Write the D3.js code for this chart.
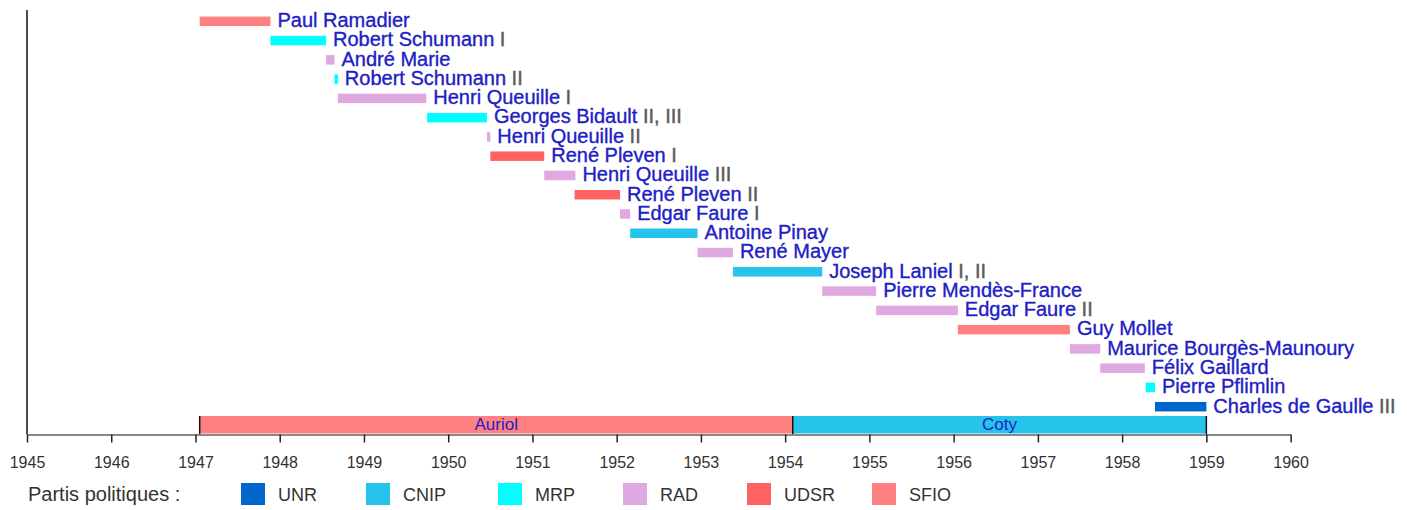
<!DOCTYPE html>
<html>
<head>
<meta charset="utf-8">
<script src="https://cdn.jsdelivr.net/npm/d3@7"></script>
<style>
  html, body { margin: 0; padding: 0; background: #fff; }
  svg { display: block; font-family: "Liberation Sans", Arial, sans-serif; }
</style>
</head>
<body>
<svg id="chart" width="1407" height="510"></svg>
<script>
// ---- data ----
const names = ["Paul Ramadier","Robert Schumann","André Marie","Robert Schumann","Henri Queuille",
  "Georges Bidault","Henri Queuille","René Pleven","Henri Queuille","René Pleven","Edgar Faure",
  "Antoine Pinay","René Mayer","Joseph Laniel","Pierre Mendès-France","Edgar Faure","Guy Mollet",
  "Maurice Bourgès-Maunoury","Félix Gaillard","Pierre Pflimlin","Charles de Gaulle"];
const numerals = ["","I","","II","I","II, III","II","I","III","II","I","","","I, II","","II","","","","","III"];
const starts = [1947.05,1947.89,1948.55,1948.65,1948.69,1949.75,1950.46,1950.50,1951.14,1951.50,1952.04,
  1952.16,1952.96,1953.38,1954.44,1955.08,1956.05,1957.38,1957.74,1958.28,1958.39];
const ends = [1947.89,1948.55,1948.65,1948.69,1949.74,1950.46,1950.50,1951.14,1951.51,1952.04,1952.16,
  1952.96,1953.38,1954.44,1955.08,1956.05,1957.38,1957.74,1958.27,1958.39,1959.00];
const parties = ["SFIO","MRP","RAD","MRP","RAD","MRP","RAD","UDSR","RAD","UDSR","RAD",
  "CNIP","RAD","CNIP","RAD","RAD","SFIO","RAD","RAD","MRP","UNR"];

const presidents = ["Auriol","Coty"];
const presStarts = [1947.05, 1954.09];
const presEnds = [1954.09, 1959.00];
const presParties = ["SFIO","CNIP"];

const years = d3.range(1945, 1961);
const legendParties = ["UNR","CNIP","MRP","RAD","UDSR","SFIO"];
const legendColors = ["#0066cc","#26c4ea","#00ffff","#e0a8e0","#ff6262","#ff8080"];
const legendTitle = "Partis politiques :";

// ---- scales ----
const svg = d3.select("#chart");
const x = d3.scaleLinear().domain([1945, 1960]).range([27, 1290.6]);
const rowIdx = d3.range(names.length);
const y = d3.scalePoint().domain(rowIdx).range([21.3, 406.7]);
const color = d3.scaleOrdinal().domain(legendParties).range(legendColors);
const barH = 9.5;
const axisY = 434.5;

// ---- cabinet bars ----
svg.append("g").selectAll("rect").data(rowIdx).join("rect")
  .attr("x", i => x(starts[i]))
  .attr("y", i => y(i) - barH / 2)
  .attr("width", i => Math.max(2, x(ends[i]) - x(starts[i])))
  .attr("height", barH)
  .attr("fill", i => color(parties[i]));

const lbl = svg.append("g").selectAll("text").data(rowIdx).join("text")
  .attr("x", i => x(ends[i]) + 7)
  .attr("y", i => y(i) + 5.8)
  .attr("font-size", 20);
lbl.append("tspan").attr("fill", "#2020c4").attr("stroke", "#2020c4").attr("stroke-width", 0.35)
  .text(i => names[i]);
lbl.append("tspan").attr("fill", "#5a5a5a").attr("stroke", "#5a5a5a").attr("stroke-width", 0.4)
  .text(i => numerals[i] ? " " + numerals[i] : "");

// ---- presidents ----
const presTop = 416, presBottom = 433.5;
svg.append("g").selectAll("rect").data(presidents).join("rect")
  .attr("x", (d, i) => x(presStarts[i]))
  .attr("y", presTop)
  .attr("width", (d, i) => x(presEnds[i]) - x(presStarts[i]))
  .attr("height", presBottom - presTop)
  .attr("fill", (d, i) => color(presParties[i]));
svg.append("g").selectAll("text").data(presidents).join("text")
  .attr("x", (d, i) => (x(presStarts[i]) + x(presEnds[i])) / 2)
  .attr("y", presBottom - 3.5)
  .attr("text-anchor", "middle")
  .attr("font-size", 17)
  .attr("fill", "#2020c4")
  .text(d => d);
const bounds = [presStarts[0], presEnds[0], presEnds[1]];
svg.append("g").selectAll("line").data(bounds).join("line")
  .attr("x1", d => x(d)).attr("x2", d => x(d))
  .attr("y1", presTop).attr("y2", axisY)
  .attr("stroke", "#111").attr("stroke-width", 1.5);

// ---- axes ----
svg.append("line")
  .attr("x1", 27).attr("x2", 27).attr("y1", 10).attr("y2", axisY)
  .attr("stroke", "#111").attr("stroke-width", 1.5);

const xAxis = d3.axisBottom(x).tickValues(years).tickFormat(d3.format("d")).tickSize(8).tickSizeOuter(0);
const gx = svg.append("g").attr("transform", `translate(0,${axisY})`).call(xAxis);
gx.select(".domain").attr("stroke", "#888").attr("stroke-width", 2);
gx.selectAll(".tick line").attr("stroke", "#222").attr("stroke-width", 1.5);
gx.selectAll(".tick text").attr("font-size", 16).attr("fill", "#333").attr("dy", 0).attr("y", 33)
  .attr("font-family", "Liberation Sans, Arial, sans-serif");

// ---- legend ----
const legY = 494;
svg.append("text").attr("x", 28).attr("y", legY + 7).attr("font-size", 20).attr("fill", "#333").text(legendTitle);
const legX = [241, 366, 498, 623, 747, 872];
const lg = svg.append("g").selectAll("g").data(legendParties).join("g")
  .attr("transform", (d, i) => `translate(${legX[i]},${legY})`);
lg.append("rect").attr("x", 0).attr("y", -11).attr("width", 24).attr("height", 22).attr("fill", d => color(d));
lg.append("text").attr("x", 37).attr("y", 7).attr("font-size", 18).attr("fill", "#333").text(d => d);
</script>
</body>
</html>
